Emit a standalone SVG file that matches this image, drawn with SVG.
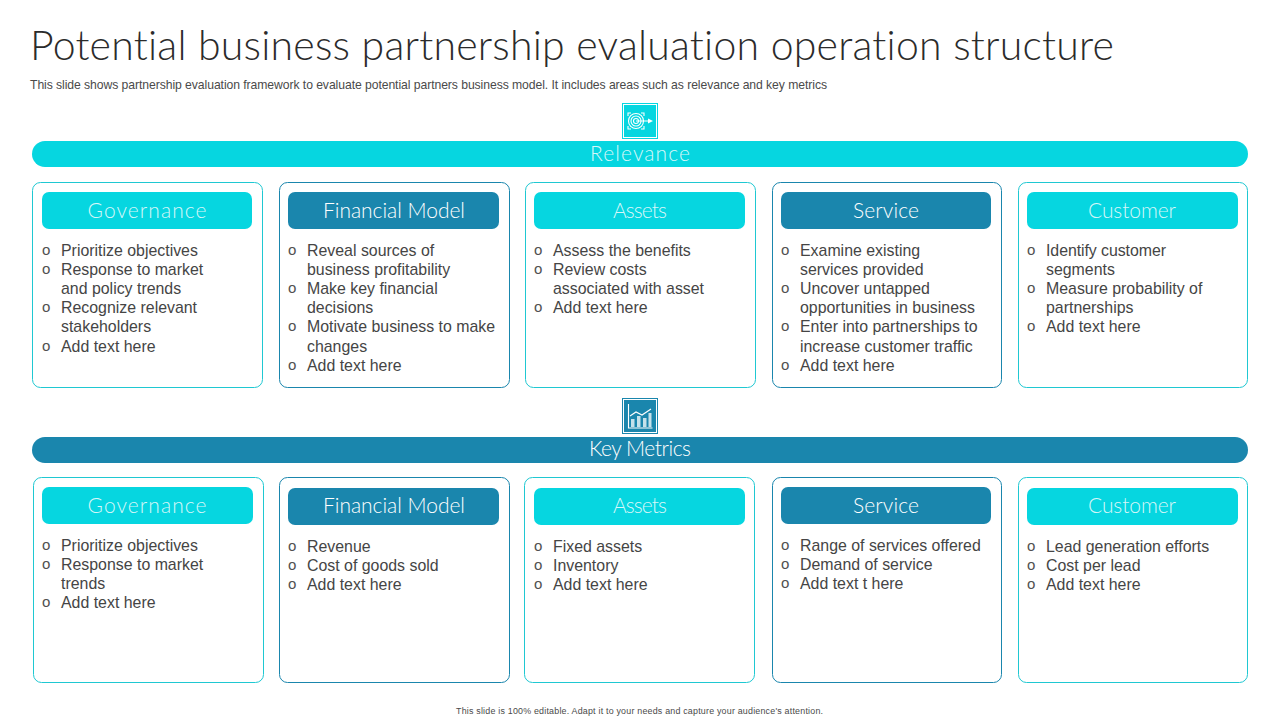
<svg xmlns="http://www.w3.org/2000/svg" width="1280" height="720" viewBox="0 0 1280 720">
<style>
text{font-family:"Liberation Sans",Arial,sans-serif;font-variant-ligatures:none}
.title{font-family:"Lato","Open Sans",sans-serif;font-weight:300;font-size:41px;fill:#2b2b2b}
.sub{font-size:12.2px;fill:#4a4a4a}
.foot{font-size:8.9px;fill:#4a4a4a}
.band,.hd{font-family:"Lato","Open Sans",sans-serif;font-weight:300;font-size:21px;fill:#fff;text-anchor:middle}
.hd.c,.band.c{fill:#d6f7f9}
.b{font-size:15.9px;fill:#454545}
.m{font-size:15px;fill:#505050}
.cy{fill:#06d6e0}.bl{fill:#1a86ad}
.card{fill:#fff;stroke-width:1}
.icl{fill:none;stroke:#fff;stroke-width:1.1}
</style>
<rect width="1280" height="720" fill="#fff"/>
<text class="title" x="30" y="60" textLength="1084" lengthAdjust="spacing">Potential business partnership evaluation operation structure</text>
<text class="sub" x="30" y="89" textLength="797" lengthAdjust="spacing">This slide shows partnership evaluation framework to evaluate potential partners business model. It includes areas such as relevance and key metrics</text>

<g id="icon-relevance">
<rect x="622" y="103" width="36" height="36" class="cy"/>
<rect x="623.500" y="104.500" width="33" height="33" fill="none" stroke="#fff"/>
<circle class="icl" cx="636" cy="121" r="7.500"/><circle class="icl" cx="636" cy="121" r="5"/><circle class="icl" cx="636" cy="121" r="2.500"/>
<path class="icl" d="M636 121H649M631 113h-3v3M641 113h3v3M631 129h-3v-3M641 129h3v-3"/>
<path d="M653 121l-5-2.500v5z" fill="#fff"/>
</g>
<g id="band-relevance"><rect x="32" y="141" width="1216" height="26" rx="13" class="cy"/><text class="band c" x="640" y="161" textLength="100" lengthAdjust="spacing">Relevance</text></g>

<g id="icon-metrics">
<rect x="622" y="398" width="36" height="36" class="bl"/>
<rect x="623.500" y="399.500" width="33" height="33" fill="none" stroke="#fff"/>
<path class="icl" d="M628.500 404v24h24"/>
<path d="M631 427v-8h3.500v8zM637 427v-11h3.500v11zM643 427v-9h3.500v9zM648.500 427v-14h3v14z" fill="#fff" fill-opacity=".75"/>
<path class="icl" d="M630 416l6-4 6 3 9-6"/>
</g>
<g id="band-metrics"><rect x="32" y="437" width="1216" height="26" rx="13" class="bl"/><text class="band" x="640" y="456" textLength="102" lengthAdjust="spacing">Key Metrics</text></g>

<g id="r1"><rect class="card" x="32.500" y="182.500" width="230" height="205" rx="8" stroke="#1fc8d2"/><rect class="cy" x="42" y="192" width="210" height="37" rx="7"/><text class="hd c" x="147" y="218" textLength="119" lengthAdjust="spacing">Governance</text>
<g class="b"><text class="m" x="42" y="255">o</text><text x="61" y="256">Prioritize objectives</text><text class="m" x="42" y="274">o</text><text x="61" y="275">Response to market</text><text x="61" y="294">and policy trends</text><text class="m" x="42" y="312">o</text><text x="61" y="313">Recognize relevant</text><text x="61" y="332">stakeholders</text><text class="m" x="42" y="351">o</text><text x="61" y="352">Add text here</text></g></g>

<g id="r2"><rect class="card" x="279.500" y="182.500" width="230" height="205" rx="8" stroke="#1a86ad"/><rect class="bl" x="288" y="192" width="211" height="37" rx="7"/><text class="hd" x="394" y="218" textLength="142" lengthAdjust="spacing">Financial Model</text>
<g class="b"><text class="m" x="288" y="255">o</text><text x="307" y="256">Reveal sources of</text><text x="307" y="275">business profitability</text><text class="m" x="288" y="293">o</text><text x="307" y="294">Make key financial</text><text x="307" y="313">decisions</text><text class="m" x="288" y="331">o</text><text x="307" y="332">Motivate business to make</text><text x="307" y="352">changes</text><text class="m" x="288" y="370">o</text><text x="307" y="371">Add text here</text></g></g>

<g id="r3"><rect class="card" x="525.500" y="182.500" width="230" height="205" rx="8" stroke="#1fc8d2"/><rect class="cy" x="534" y="192" width="211" height="37" rx="7"/><text class="hd c" x="640" y="218" textLength="54" lengthAdjust="spacing">Assets</text>
<g class="b"><text class="m" x="534" y="255">o</text><text x="553" y="256">Assess the benefits</text><text class="m" x="534" y="274">o</text><text x="553" y="275">Review costs</text><text x="553" y="294">associated with asset</text><text class="m" x="534" y="312">o</text><text x="553" y="313">Add text here</text></g></g>

<g id="r4"><rect class="card" x="772.500" y="182.500" width="229" height="205" rx="8" stroke="#1a86ad"/><rect class="bl" x="781" y="192" width="210" height="37" rx="7"/><text class="hd" x="886" y="218" textLength="66" lengthAdjust="spacing">Service</text>
<g class="b"><text class="m" x="781" y="255">o</text><text x="800" y="256">Examine existing</text><text x="800" y="275">services provided</text><text class="m" x="781" y="293">o</text><text x="800" y="294">Uncover untapped</text><text x="800" y="313">opportunities in business</text><text class="m" x="781" y="331">o</text><text x="800" y="332">Enter into partnerships to</text><text x="800" y="352">increase customer traffic</text><text class="m" x="781" y="370">o</text><text x="800" y="371">Add text here</text></g></g>

<g id="r5"><rect class="card" x="1018.500" y="182.500" width="229" height="205" rx="8" stroke="#1fc8d2"/><rect class="cy" x="1027" y="192" width="211" height="37" rx="7"/><text class="hd c" x="1132" y="218" textLength="88" lengthAdjust="spacing">Customer</text>
<g class="b"><text class="m" x="1027" y="255">o</text><text x="1046" y="256" textLength="120" lengthAdjust="spacing">Identify customer</text><text x="1046" y="275">segments</text><text class="m" x="1027" y="293">o</text><text x="1046" y="294">Measure probability of</text><text x="1046" y="313">partnerships</text><text class="m" x="1027" y="331">o</text><text x="1046" y="332">Add text here</text></g></g>

<g id="k1"><rect class="card" x="33.500" y="477.500" width="230" height="205" rx="8" stroke="#1fc8d2"/><rect class="cy" x="42" y="487" width="211" height="37" rx="7"/><text class="hd c" x="147" y="513" textLength="119" lengthAdjust="spacing">Governance</text>
<g class="b"><text class="m" x="42" y="550">o</text><text x="61" y="551">Prioritize objectives</text><text class="m" x="42" y="569">o</text><text x="61" y="570">Response to market</text><text x="61" y="589">trends</text><text class="m" x="42" y="607">o</text><text x="61" y="608">Add text here</text></g></g>

<g id="k2"><rect class="card" x="279.500" y="477.500" width="230" height="205" rx="8" stroke="#1a86ad"/><rect class="bl" x="288" y="488" width="211" height="37" rx="7"/><text class="hd" x="394" y="513" textLength="142" lengthAdjust="spacing">Financial Model</text>
<g class="b"><text class="m" x="288" y="551">o</text><text x="307" y="552">Revenue</text><text class="m" x="288" y="570">o</text><text x="307" y="571">Cost of goods sold</text><text class="m" x="288" y="589">o</text><text x="307" y="590">Add text here</text></g></g>

<g id="k3"><rect class="card" x="524.500" y="477.500" width="230" height="205" rx="8" stroke="#1fc8d2"/><rect class="cy" x="534" y="488" width="211" height="37" rx="7"/><text class="hd c" x="640" y="513" textLength="54" lengthAdjust="spacing">Assets</text>
<g class="b"><text class="m" x="534" y="551">o</text><text x="553" y="552">Fixed assets</text><text class="m" x="534" y="570">o</text><text x="553" y="571">Inventory</text><text class="m" x="534" y="589">o</text><text x="553" y="590">Add text here</text></g></g>

<g id="k4"><rect class="card" x="772.500" y="477.500" width="229" height="205" rx="8" stroke="#1a86ad"/><rect class="bl" x="781" y="487" width="210" height="37" rx="7"/><text class="hd" x="886" y="513" textLength="66" lengthAdjust="spacing">Service</text>
<g class="b"><text class="m" x="781" y="550">o</text><text x="800" y="551">Range of services offered</text><text class="m" x="781" y="569">o</text><text x="800" y="570">Demand of service</text><text class="m" x="781" y="588">o</text><text x="800" y="589">Add text t here</text></g></g>

<g id="k5"><rect class="card" x="1018.500" y="477.500" width="229" height="205" rx="8" stroke="#1fc8d2"/><rect class="cy" x="1027" y="488" width="211" height="37" rx="7"/><text class="hd c" x="1132" y="513" textLength="88" lengthAdjust="spacing">Customer</text>
<g class="b"><text class="m" x="1027" y="551">o</text><text x="1046" y="552">Lead generation efforts</text><text class="m" x="1027" y="570">o</text><text x="1046" y="571">Cost per lead</text><text class="m" x="1027" y="589">o</text><text x="1046" y="590">Add text here</text></g></g>

<text class="foot" x="456" y="714" textLength="367" lengthAdjust="spacing">This slide is 100% editable. Adapt it to your needs and capture your audience's attention.</text>
</svg>
